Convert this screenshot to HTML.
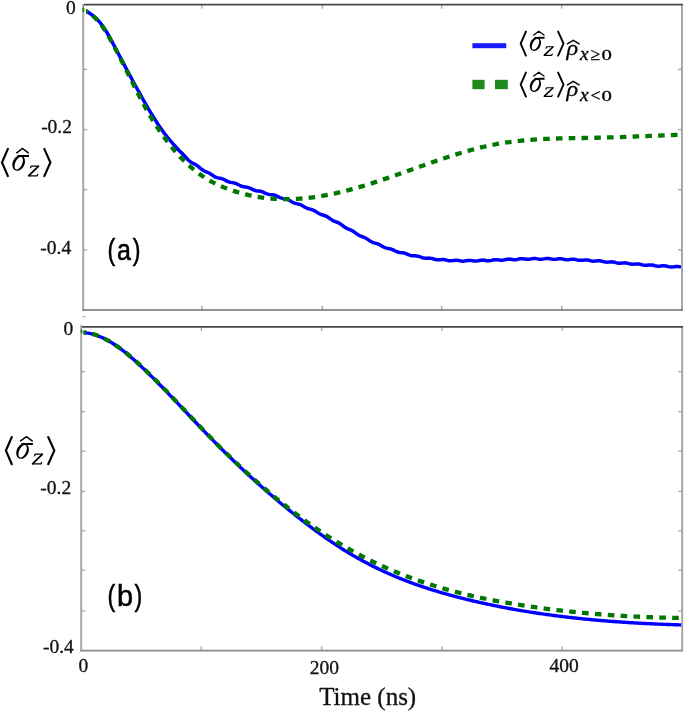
<!DOCTYPE html>
<html><head><meta charset="utf-8"><style>
html,body{margin:0;padding:0;background:#fff;width:685px;height:711px;overflow:hidden;position:relative}
</style></head><body>
<svg width="685" height="711" viewBox="0 0 685 711" style="position:absolute;left:0;top:0;will-change:transform">
<defs>
<clipPath id="ca"><rect x="86.2" y="5" width="595.5" height="305"/></clipPath>
<clipPath id="cb"><rect x="83.6" y="327.5" width="598" height="322.5"/></clipPath>
</defs>
<g>
<g stroke="#ababab" stroke-width="1.4" fill="none">
<line x1="201.9" y1="4.6" x2="201.9" y2="8.8"/><line x1="322.3" y1="4.6" x2="322.3" y2="8.8"/><line x1="441.6" y1="4.6" x2="441.6" y2="8.8"/><line x1="561.7" y1="4.6" x2="561.7" y2="8.8"/><line x1="201.9" y1="310" x2="201.9" y2="305.8"/><line x1="322.3" y1="310" x2="322.3" y2="305.8"/><line x1="441.6" y1="310" x2="441.6" y2="305.8"/><line x1="561.7" y1="310" x2="561.7" y2="305.8"/>
<line x1="83.2" y1="69.4" x2="87.2" y2="69.4"/><line x1="83.2" y1="129.6" x2="87.2" y2="129.6"/><line x1="83.2" y1="189.7" x2="87.2" y2="189.7"/><line x1="83.2" y1="249.9" x2="87.2" y2="249.9"/><line x1="682" y1="69.4" x2="678" y2="69.4"/><line x1="682" y1="129.6" x2="678" y2="129.6"/><line x1="682" y1="189.7" x2="678" y2="189.7"/><line x1="682" y1="249.9" x2="678" y2="249.9"/>
<line x1="201.3" y1="326.9" x2="201.3" y2="331.09999999999997"/><line x1="321.6" y1="326.9" x2="321.6" y2="331.09999999999997"/><line x1="441.9" y1="326.9" x2="441.9" y2="331.09999999999997"/><line x1="562.2" y1="326.9" x2="562.2" y2="331.09999999999997"/><line x1="201.3" y1="650.6" x2="201.3" y2="646.2"/><line x1="321.6" y1="650.6" x2="321.6" y2="646.2"/><line x1="441.9" y1="650.6" x2="441.9" y2="646.2"/><line x1="562.2" y1="650.6" x2="562.2" y2="646.2"/>
<line x1="81.2" y1="371.6" x2="85.2" y2="371.6"/><line x1="81.2" y1="411.6" x2="85.2" y2="411.6"/><line x1="81.2" y1="451.2" x2="85.2" y2="451.2"/><line x1="81.2" y1="491.4" x2="85.2" y2="491.4"/><line x1="81.2" y1="530.8" x2="85.2" y2="530.8"/><line x1="81.2" y1="570.2" x2="85.2" y2="570.2"/><line x1="81.2" y1="611" x2="85.2" y2="611"/><line x1="682.2" y1="371.6" x2="678.2" y2="371.6"/><line x1="682.2" y1="411.6" x2="678.2" y2="411.6"/><line x1="682.2" y1="451.2" x2="678.2" y2="451.2"/><line x1="682.2" y1="491.4" x2="678.2" y2="491.4"/><line x1="682.2" y1="530.8" x2="678.2" y2="530.8"/><line x1="682.2" y1="570.2" x2="678.2" y2="570.2"/><line x1="682.2" y1="611" x2="678.2" y2="611"/>
</g>
<g fill="none" stroke-linejoin="round">
<g clip-path="url(#ca)">
<path d="M83.50,9.55 L85.00,10.40 L86.50,11.27 L88.00,12.19 L89.50,13.17 L91.00,14.21 L92.50,15.33 L94.00,16.54 L95.50,17.86 L97.00,19.29 L98.50,20.85 L100.00,22.56 L101.50,24.42 L103.00,26.44 L104.50,28.64 L106.00,31.01 L107.50,33.51 L109.00,36.13 L110.50,38.84 L112.00,41.63 L113.50,44.47 L115.00,47.33 L116.50,50.19 L118.00,53.05 L119.50,55.90 L121.00,58.75 L122.50,61.59 L124.00,64.42 L125.50,67.25 L127.00,70.06 L128.50,72.87 L130.00,75.67 L131.50,78.45 L133.00,81.22 L134.50,83.99 L136.00,86.73 L137.50,89.47 L139.00,92.19 L140.50,94.90 L142.00,97.59 L143.50,100.25 L145.00,102.89 L146.50,105.50 L148.00,108.08 L149.50,110.63 L151.00,113.13 L152.50,115.60 L154.00,118.02 L155.50,120.39 L157.00,122.71 L158.50,124.97 L160.00,127.18 L161.50,129.32 L163.00,131.40 L164.50,133.42 L166.00,135.36 L167.50,137.25 L169.00,139.08 L170.50,140.87 L172.00,142.61 L173.50,144.32 L175.00,146.00 L176.50,147.65 L178.00,149.29 L179.50,150.92 L181.00,152.37 L182.50,153.77 L184.00,155.32 L185.50,157.00 L187.00,158.70 L188.50,160.26 L190.00,161.54 L191.50,162.53 L193.00,163.30 L194.50,164.02 L196.00,164.85 L197.50,165.88 L199.00,167.10 L200.50,168.38 L202.00,169.56 L203.50,170.54 L205.00,171.30 L206.50,171.92 L208.00,172.54 L209.50,173.30 L211.00,174.23 L212.50,175.27 L214.00,176.27 L215.50,177.10 L217.00,177.66 L218.50,178.00 L220.00,178.25 L221.50,178.57 L223.00,179.08 L224.50,179.79 L226.00,180.60 L227.50,181.38 L229.00,181.99 L230.50,182.38 L232.00,182.62 L233.50,182.85 L235.00,183.20 L236.50,183.75 L238.00,184.49 L239.50,185.28 L241.00,185.99 L242.50,186.50 L244.00,186.81 L245.50,187.00 L247.00,187.23 L248.50,187.61 L250.00,188.20 L251.50,188.94 L253.00,189.69 L254.50,190.31 L256.00,190.71 L257.50,190.93 L259.00,191.07 L260.50,191.30 L262.00,191.71 L263.50,192.31 L265.00,193.03 L266.50,193.70 L268.00,194.20 L269.50,194.48 L271.00,194.62 L272.50,194.75 L274.00,195.01 L275.50,195.49 L277.00,196.17 L278.50,196.93 L280.00,197.62 L281.50,198.15 L283.00,198.50 L284.50,198.75 L286.00,199.05 L287.50,199.53 L289.00,200.23 L290.50,201.09 L292.00,201.97 L293.50,202.73 L295.00,203.28 L296.50,203.65 L298.00,203.96 L299.50,204.35 L301.00,204.95 L302.50,205.74 L304.00,206.66 L305.50,207.54 L307.00,208.26 L308.50,208.78 L310.00,209.15 L311.50,209.52 L313.00,210.02 L314.50,210.74 L316.00,211.64 L317.50,212.63 L319.00,213.53 L320.50,214.26 L322.00,214.79 L323.50,215.23 L325.00,215.71 L326.50,216.37 L328.00,217.25 L329.50,218.30 L331.00,219.38 L332.50,220.34 L334.00,221.10 L335.50,221.70 L337.00,222.23 L338.50,222.86 L340.00,223.69 L341.50,224.72 L343.00,225.87 L344.50,226.99 L346.00,227.94 L347.50,228.69 L349.00,229.28 L350.50,229.86 L352.00,230.56 L353.50,231.47 L355.00,232.55 L356.50,233.69 L358.00,234.75 L359.50,235.60 L361.00,236.24 L362.50,236.76 L364.00,237.30 L365.50,238.00 L367.00,238.89 L368.50,239.92 L370.00,240.95 L371.50,241.83 L373.00,242.49 L374.50,242.95 L376.00,243.34 L377.50,243.78 L379.00,244.41 L380.50,245.22 L382.00,246.13 L383.50,246.98 L385.00,247.66 L386.50,248.11 L388.00,248.40 L389.50,248.65 L391.00,249.02 L392.50,249.58 L394.00,250.31 L395.50,251.09 L397.00,251.77 L398.50,252.25 L400.00,252.51 L401.50,252.65 L403.00,252.81 L404.50,253.12 L406.00,253.63 L407.50,254.28 L409.00,254.93 L410.50,255.43 L412.00,255.72 L413.50,255.82 L415.00,255.84 L416.50,255.93 L418.00,256.20 L419.50,256.66 L421.00,257.22 L422.50,257.74 L424.00,258.08 L425.50,258.20 L427.00,258.15 L428.50,258.08 L430.00,258.13 L431.50,258.38 L433.00,258.79 L434.50,259.27 L436.00,259.65 L437.50,259.82 L439.00,259.79 L440.50,259.64 L442.00,259.51 L443.50,259.54 L445.00,259.77 L446.50,260.14 L448.00,260.52 L449.50,260.76 L451.00,260.79 L452.50,260.63 L454.00,260.39 L455.50,260.23 L457.00,260.26 L458.50,260.48 L460.00,260.81 L461.50,261.09 L463.00,261.20 L464.50,261.09 L466.00,260.83 L467.50,260.55 L469.00,260.38 L470.50,260.42 L472.00,260.64 L473.50,260.92 L475.00,261.11 L476.50,261.10 L478.00,260.89 L479.50,260.56 L481.00,260.26 L482.50,260.12 L484.00,260.20 L485.50,260.42 L487.00,260.65 L488.50,260.75 L490.00,260.64 L491.50,260.35 L493.00,260.00 L494.50,259.72 L496.00,259.64 L497.50,259.76 L499.00,259.98 L500.50,260.18 L502.00,260.21 L503.50,260.02 L505.00,259.69 L506.50,259.34 L508.00,259.13 L509.50,259.12 L511.00,259.29 L512.50,259.53 L514.00,259.69 L515.50,259.66 L517.00,259.43 L518.50,259.09 L520.00,258.79 L521.50,258.66 L523.00,258.74 L524.50,258.98 L526.00,259.23 L527.50,259.36 L529.00,259.28 L530.50,259.03 L532.00,258.71 L533.50,258.49 L535.00,258.45 L536.50,258.62 L538.00,258.91 L539.50,259.16 L541.00,259.26 L542.50,259.14 L544.00,258.88 L545.50,258.60 L547.00,258.46 L548.50,258.52 L550.00,258.77 L551.50,259.09 L553.00,259.33 L554.50,259.38 L556.00,259.23 L557.50,258.97 L559.00,258.76 L560.50,258.70 L562.00,258.87 L563.50,259.19 L565.00,259.52 L566.50,259.73 L568.00,259.74 L569.50,259.57 L571.00,259.33 L572.50,259.19 L574.00,259.23 L575.50,259.49 L577.00,259.85 L578.50,260.19 L580.00,260.36 L581.50,260.33 L583.00,260.15 L584.50,259.95 L586.00,259.89 L587.50,260.03 L589.00,260.36 L590.50,260.76 L592.00,261.07 L593.50,261.20 L595.00,261.12 L596.50,260.94 L598.00,260.79 L599.50,260.81 L601.00,261.04 L602.50,261.43 L604.00,261.83 L605.50,262.10 L607.00,262.17 L608.50,262.06 L610.00,261.88 L611.50,261.79 L613.00,261.89 L614.50,262.19 L616.00,262.61 L617.50,262.99 L619.00,263.20 L620.50,263.21 L622.00,263.06 L623.50,262.90 L625.00,262.87 L626.50,263.04 L628.00,263.40 L629.50,263.82 L631.00,264.16 L632.50,264.30 L634.00,264.25 L635.50,264.07 L637.00,263.94 L638.50,263.97 L640.00,264.20 L641.50,264.59 L643.00,264.99 L644.50,265.27 L646.00,265.33 L647.50,265.21 L649.00,265.02 L650.50,264.92 L652.00,265.01 L653.50,265.29 L655.00,265.69 L656.50,266.05 L658.00,266.24 L659.50,266.21 L661.00,266.04 L662.50,265.85 L664.00,265.78 L665.50,265.91 L667.00,266.23 L668.50,266.61 L670.00,266.90 L671.50,267.00 L673.00,266.89 L674.50,266.66 L676.00,266.47 L677.50,266.44 L679.00,266.62 L680.50,266.94 L681.00,267.06" stroke="#0000ff" stroke-width="3.5"/>
<path d="M83.50,9.93 L85.00,10.68 L86.50,11.49 L88.00,12.37 L89.50,13.34 L91.00,14.40 L92.50,15.56 L94.00,16.83 L95.50,18.22 L97.00,19.75 L98.50,21.42 L100.00,23.23 L101.50,25.21 L103.00,27.33 L104.50,29.59 L106.00,31.96 L107.50,34.44 L109.00,37.01 L110.50,39.67 L112.00,42.38 L113.50,45.15 L115.00,47.97 L116.50,50.83 L118.00,53.72 L119.50,56.64 L121.00,59.59 L122.50,62.56 L124.00,65.55 L125.50,68.55 L127.00,71.56 L128.50,74.58 L130.00,77.59 L131.50,80.60 L133.00,83.61 L134.50,86.60 L136.00,89.57 L137.50,92.52 L139.00,95.44 L140.50,98.33 L142.00,101.18 L143.50,104.00 L145.00,106.77 L146.50,109.49 L148.00,112.16 L149.50,114.77 L151.00,117.32 L152.50,119.80 L154.00,122.21 L155.50,124.57 L157.00,126.86 L158.50,129.10 L160.00,131.30 L161.50,133.45 L163.00,135.55 L164.50,137.62 L166.00,139.66 L167.50,141.66 L169.00,143.63 L170.50,145.56 L172.00,147.46 L173.50,149.31 L175.00,151.12 L176.50,152.88 L178.00,154.58 L179.50,156.24 L181.00,157.83 L182.50,159.36 L184.00,160.84 L185.50,162.26 L187.00,163.63 L188.50,164.97 L190.00,166.27 L191.50,167.55 L193.00,168.81 L194.50,170.05 L196.00,171.27 L197.50,172.45 L199.00,173.61 L200.50,174.72 L202.00,175.80 L203.50,176.83 L205.00,177.82 L206.50,178.77 L208.00,179.68 L209.50,180.55 L211.00,181.38 L212.50,182.19 L214.00,182.95 L215.50,183.69 L217.00,184.41 L218.50,185.09 L220.00,185.75 L221.50,186.39 L223.00,187.01 L224.50,187.62 L226.00,188.20 L227.50,188.77 L229.00,189.32 L230.50,189.86 L232.00,190.37 L233.50,190.88 L235.00,191.36 L236.50,191.84 L238.00,192.29 L239.50,192.73 L241.00,193.15 L242.50,193.56 L244.00,193.96 L245.50,194.33 L247.00,194.70 L248.50,195.04 L250.00,195.38 L251.50,195.69 L253.00,196.00 L254.50,196.29 L256.00,196.56 L257.50,196.82 L259.00,197.07 L260.50,197.30 L262.00,197.51 L263.50,197.72 L265.00,197.91 L266.50,198.08 L268.00,198.25 L269.50,198.39 L271.00,198.53 L272.50,198.65 L274.00,198.76 L275.50,198.86 L277.00,198.94 L278.50,199.01 L280.00,199.07 L281.50,199.11 L283.00,199.14 L284.50,199.16 L286.00,199.17 L287.50,199.17 L289.00,199.15 L290.50,199.12 L292.00,199.08 L293.50,199.03 L295.00,198.97 L296.50,198.89 L298.00,198.81 L299.50,198.71 L301.00,198.60 L302.50,198.48 L304.00,198.35 L305.50,198.21 L307.00,198.05 L308.50,197.89 L310.00,197.72 L311.50,197.53 L313.00,197.34 L314.50,197.13 L316.00,196.92 L317.50,196.70 L319.00,196.46 L320.50,196.22 L322.00,195.96 L323.50,195.70 L325.00,195.43 L326.50,195.15 L328.00,194.86 L329.50,194.56 L331.00,194.26 L332.50,193.94 L334.00,193.62 L335.50,193.29 L337.00,192.95 L338.50,192.61 L340.00,192.25 L341.50,191.89 L343.00,191.52 L344.50,191.15 L346.00,190.77 L347.50,190.38 L349.00,189.98 L350.50,189.58 L352.00,189.17 L353.50,188.76 L355.00,188.34 L356.50,187.91 L358.00,187.48 L359.50,187.04 L361.00,186.60 L362.50,186.15 L364.00,185.70 L365.50,185.24 L367.00,184.78 L368.50,184.31 L370.00,183.84 L371.50,183.36 L373.00,182.88 L374.50,182.40 L376.00,181.91 L377.50,181.41 L379.00,180.92 L380.50,180.42 L382.00,179.92 L383.50,179.41 L385.00,178.90 L386.50,178.39 L388.00,177.88 L389.50,177.36 L391.00,176.84 L392.50,176.32 L394.00,175.80 L395.50,175.28 L397.00,174.75 L398.50,174.22 L400.00,173.69 L401.50,173.16 L403.00,172.63 L404.50,172.10 L406.00,171.57 L407.50,171.03 L409.00,170.50 L410.50,169.96 L412.00,169.43 L413.50,168.89 L415.00,168.36 L416.50,167.83 L418.00,167.29 L419.50,166.76 L421.00,166.23 L422.50,165.69 L424.00,165.16 L425.50,164.64 L427.00,164.11 L428.50,163.58 L430.00,163.06 L431.50,162.54 L433.00,162.02 L434.50,161.50 L436.00,160.98 L437.50,160.47 L439.00,159.96 L440.50,159.45 L442.00,158.95 L443.50,158.45 L445.00,157.95 L446.50,157.46 L448.00,156.97 L449.50,156.48 L451.00,156.00 L452.50,155.52 L454.00,155.05 L455.50,154.58 L457.00,154.11 L458.50,153.65 L460.00,153.20 L461.50,152.75 L463.00,152.31 L464.50,151.87 L466.00,151.44 L467.50,151.01 L469.00,150.59 L470.50,150.17 L472.00,149.77 L473.50,149.36 L475.00,148.97 L476.50,148.58 L478.00,148.20 L479.50,147.83 L481.00,147.46 L482.50,147.10 L484.00,146.75 L485.50,146.40 L487.00,146.07 L488.50,145.74 L490.00,145.42 L491.50,145.11 L493.00,144.81 L494.50,144.51 L496.00,144.23 L497.50,143.95 L499.00,143.68 L500.50,143.43 L502.00,143.18 L503.50,142.94 L505.00,142.70 L506.50,142.48 L508.00,142.26 L509.50,142.05 L511.00,141.85 L512.50,141.66 L514.00,141.47 L515.50,141.29 L517.00,141.12 L518.50,140.95 L520.00,140.79 L521.50,140.64 L523.00,140.49 L524.50,140.35 L526.00,140.22 L527.50,140.09 L529.00,139.97 L530.50,139.85 L532.00,139.74 L533.50,139.63 L535.00,139.53 L536.50,139.43 L538.00,139.34 L539.50,139.25 L541.00,139.17 L542.50,139.09 L544.00,139.02 L545.50,138.95 L547.00,138.88 L548.50,138.82 L550.00,138.76 L551.50,138.70 L553.00,138.65 L554.50,138.60 L556.00,138.55 L557.50,138.51 L559.00,138.47 L560.50,138.43 L562.00,138.39 L563.50,138.35 L565.00,138.32 L566.50,138.29 L568.00,138.26 L569.50,138.23 L571.00,138.20 L572.50,138.18 L574.00,138.15 L575.50,138.13 L577.00,138.10 L578.50,138.08 L580.00,138.06 L581.50,138.03 L583.00,138.01 L584.50,137.99 L586.00,137.96 L587.50,137.94 L589.00,137.91 L590.50,137.89 L592.00,137.86 L593.50,137.83 L595.00,137.80 L596.50,137.77 L598.00,137.74 L599.50,137.71 L601.00,137.67 L602.50,137.63 L604.00,137.60 L605.50,137.55 L607.00,137.51 L608.50,137.47 L610.00,137.43 L611.50,137.38 L613.00,137.33 L614.50,137.28 L616.00,137.23 L617.50,137.18 L619.00,137.13 L620.50,137.08 L622.00,137.03 L623.50,136.97 L625.00,136.92 L626.50,136.86 L628.00,136.81 L629.50,136.75 L631.00,136.69 L632.50,136.63 L634.00,136.57 L635.50,136.51 L637.00,136.45 L638.50,136.40 L640.00,136.33 L641.50,136.27 L643.00,136.21 L644.50,136.15 L646.00,136.09 L647.50,136.03 L649.00,135.97 L650.50,135.91 L652.00,135.85 L653.50,135.79 L655.00,135.73 L656.50,135.67 L658.00,135.61 L659.50,135.55 L661.00,135.49 L662.50,135.44 L664.00,135.38 L665.50,135.32 L667.00,135.27 L668.50,135.21 L670.00,135.16 L671.50,135.11 L673.00,135.05 L674.50,135.00 L676.00,134.95 L677.50,134.90 L679.00,134.85" stroke="#007800" stroke-width="4.3" stroke-dasharray="6.6 6.177" stroke-dashoffset="1.661"/>
</g>
<g clip-path="url(#cb)">
<path d="M81.80,332.65 L83.30,332.69 L84.80,332.79 L86.30,332.94 L87.80,333.14 L89.30,333.40 L90.80,333.70 L92.30,334.06 L93.80,334.47 L95.30,334.92 L96.80,335.42 L98.30,335.97 L99.80,336.56 L101.30,337.20 L102.80,337.87 L104.30,338.59 L105.80,339.35 L107.30,340.15 L108.80,340.99 L110.30,341.87 L111.80,342.78 L113.30,343.72 L114.80,344.71 L116.30,345.72 L117.80,346.76 L119.30,347.84 L120.80,348.95 L122.30,350.08 L123.80,351.24 L125.30,352.43 L126.80,353.65 L128.30,354.89 L129.80,356.15 L131.30,357.43 L132.80,358.74 L134.30,360.07 L135.80,361.41 L137.30,362.77 L138.80,364.15 L140.30,365.55 L141.80,366.96 L143.30,368.38 L144.80,369.82 L146.30,371.27 L147.80,372.73 L149.30,374.20 L150.80,375.68 L152.30,377.16 L153.80,378.66 L155.30,380.16 L156.80,381.67 L158.30,383.19 L159.80,384.72 L161.30,386.25 L162.80,387.79 L164.30,389.33 L165.80,390.88 L167.30,392.44 L168.80,394.00 L170.30,395.56 L171.80,397.13 L173.30,398.70 L174.80,400.28 L176.30,401.85 L177.80,403.44 L179.30,405.02 L180.80,406.60 L182.30,408.19 L183.80,409.78 L185.30,411.36 L186.80,412.95 L188.30,414.54 L189.80,416.13 L191.30,417.71 L192.80,419.30 L194.30,420.88 L195.80,422.46 L197.30,424.04 L198.80,425.62 L200.30,427.19 L201.80,428.76 L203.30,430.33 L204.80,431.89 L206.30,433.45 L207.80,435.00 L209.30,436.55 L210.80,438.09 L212.30,439.63 L213.80,441.16 L215.30,442.68 L216.80,444.20 L218.30,445.71 L219.80,447.21 L221.30,448.71 L222.80,450.21 L224.30,451.69 L225.80,453.18 L227.30,454.65 L228.80,456.12 L230.30,457.58 L231.80,459.04 L233.30,460.49 L234.80,461.94 L236.30,463.38 L237.80,464.81 L239.30,466.24 L240.80,467.66 L242.30,469.07 L243.80,470.48 L245.30,471.88 L246.80,473.28 L248.30,474.67 L249.80,476.05 L251.30,477.43 L252.80,478.80 L254.30,480.17 L255.80,481.53 L257.30,482.88 L258.80,484.23 L260.30,485.57 L261.80,486.90 L263.30,488.23 L264.80,489.56 L266.30,490.87 L267.80,492.18 L269.30,493.49 L270.80,494.78 L272.30,496.07 L273.80,497.36 L275.30,498.64 L276.80,499.91 L278.30,501.18 L279.80,502.44 L281.30,503.69 L282.80,504.94 L284.30,506.18 L285.80,507.41 L287.30,508.64 L288.80,509.86 L290.30,511.08 L291.80,512.29 L293.30,513.49 L294.80,514.69 L296.30,515.88 L297.80,517.06 L299.30,518.24 L300.80,519.41 L302.30,520.58 L303.80,521.74 L305.30,522.89 L306.80,524.03 L308.30,525.17 L309.80,526.30 L311.30,527.43 L312.80,528.55 L314.30,529.66 L315.80,530.77 L317.30,531.87 L318.80,532.96 L320.30,534.04 L321.80,535.12 L323.30,536.19 L324.80,537.25 L326.30,538.30 L327.80,539.35 L329.30,540.38 L330.80,541.41 L332.30,542.43 L333.80,543.43 L335.30,544.43 L336.80,545.42 L338.30,546.40 L339.80,547.37 L341.30,548.33 L342.80,549.27 L344.30,550.21 L345.80,551.14 L347.30,552.05 L348.80,552.96 L350.30,553.86 L351.80,554.74 L353.30,555.62 L354.80,556.48 L356.30,557.34 L357.80,558.19 L359.30,559.03 L360.80,559.85 L362.30,560.67 L363.80,561.48 L365.30,562.28 L366.80,563.07 L368.30,563.85 L369.80,564.63 L371.30,565.39 L372.80,566.15 L374.30,566.89 L375.80,567.63 L377.30,568.36 L378.80,569.08 L380.30,569.79 L381.80,570.49 L383.30,571.19 L384.80,571.88 L386.30,572.56 L387.80,573.23 L389.30,573.89 L390.80,574.55 L392.30,575.20 L393.80,575.84 L395.30,576.47 L396.80,577.09 L398.30,577.71 L399.80,578.32 L401.30,578.92 L402.80,579.52 L404.30,580.11 L405.80,580.69 L407.30,581.27 L408.80,581.83 L410.30,582.40 L411.80,582.95 L413.30,583.50 L414.80,584.04 L416.30,584.58 L417.80,585.10 L419.30,585.63 L420.80,586.14 L422.30,586.65 L423.80,587.16 L425.30,587.66 L426.80,588.15 L428.30,588.64 L429.80,589.12 L431.30,589.59 L432.80,590.06 L434.30,590.53 L435.80,590.99 L437.30,591.44 L438.80,591.89 L440.30,592.33 L441.80,592.77 L443.30,593.21 L444.80,593.64 L446.30,594.06 L447.80,594.48 L449.30,594.89 L450.80,595.30 L452.30,595.71 L453.80,596.11 L455.30,596.51 L456.80,596.90 L458.30,597.29 L459.80,597.68 L461.30,598.06 L462.80,598.44 L464.30,598.81 L465.80,599.18 L467.30,599.55 L468.80,599.91 L470.30,600.27 L471.80,600.63 L473.30,600.98 L474.80,601.33 L476.30,601.67 L477.80,602.02 L479.30,602.36 L480.80,602.69 L482.30,603.03 L483.80,603.36 L485.30,603.68 L486.80,604.01 L488.30,604.33 L489.80,604.64 L491.30,604.96 L492.80,605.27 L494.30,605.58 L495.80,605.88 L497.30,606.18 L498.80,606.48 L500.30,606.78 L501.80,607.07 L503.30,607.36 L504.80,607.65 L506.30,607.93 L507.80,608.21 L509.30,608.49 L510.80,608.76 L512.30,609.04 L513.80,609.31 L515.30,609.57 L516.80,609.83 L518.30,610.10 L519.80,610.35 L521.30,610.61 L522.80,610.86 L524.30,611.11 L525.80,611.36 L527.30,611.60 L528.80,611.84 L530.30,612.08 L531.80,612.31 L533.30,612.55 L534.80,612.78 L536.30,613.00 L537.80,613.23 L539.30,613.45 L540.80,613.67 L542.30,613.89 L543.80,614.10 L545.30,614.32 L546.80,614.52 L548.30,614.73 L549.80,614.94 L551.30,615.14 L552.80,615.34 L554.30,615.53 L555.80,615.73 L557.30,615.92 L558.80,616.11 L560.30,616.30 L561.80,616.48 L563.30,616.67 L564.80,616.85 L566.30,617.02 L567.80,617.20 L569.30,617.37 L570.80,617.54 L572.30,617.71 L573.80,617.88 L575.30,618.04 L576.80,618.20 L578.30,618.36 L579.80,618.52 L581.30,618.68 L582.80,618.83 L584.30,618.98 L585.80,619.13 L587.30,619.28 L588.80,619.42 L590.30,619.56 L591.80,619.70 L593.30,619.84 L594.80,619.98 L596.30,620.11 L597.80,620.25 L599.30,620.38 L600.80,620.50 L602.30,620.63 L603.80,620.76 L605.30,620.88 L606.80,621.00 L608.30,621.12 L609.80,621.23 L611.30,621.35 L612.80,621.46 L614.30,621.57 L615.80,621.68 L617.30,621.79 L618.80,621.90 L620.30,622.00 L621.80,622.10 L623.30,622.21 L624.80,622.30 L626.30,622.40 L627.80,622.50 L629.30,622.59 L630.80,622.68 L632.30,622.78 L633.80,622.86 L635.30,622.95 L636.80,623.04 L638.30,623.12 L639.80,623.20 L641.30,623.29 L642.80,623.37 L644.30,623.44 L645.80,623.52 L647.30,623.60 L648.80,623.67 L650.30,623.74 L651.80,623.81 L653.30,623.88 L654.80,623.95 L656.30,624.02 L657.80,624.08 L659.30,624.15 L660.80,624.21 L662.30,624.27 L663.80,624.33 L665.30,624.39 L666.80,624.45 L668.30,624.50 L669.80,624.56 L671.30,624.61 L672.80,624.67 L674.30,624.72 L675.80,624.77 L677.30,624.82 L678.80,624.86 L680.30,624.91 L681.80,624.96 L682.00,624.96" stroke="#0000ff" stroke-width="3.4"/>
<path d="M81.80,332.29 L83.30,332.37 L84.80,332.50 L86.30,332.69 L87.80,332.92 L89.30,333.21 L90.80,333.54 L92.30,333.92 L93.80,334.35 L95.30,334.82 L96.80,335.34 L98.30,335.90 L99.80,336.50 L101.30,337.15 L102.80,337.83 L104.30,338.56 L105.80,339.32 L107.30,340.12 L108.80,340.96 L110.30,341.83 L111.80,342.74 L113.30,343.69 L114.80,344.66 L116.30,345.67 L117.80,346.71 L119.30,347.77 L120.80,348.87 L122.30,350.00 L123.80,351.15 L125.30,352.33 L126.80,353.53 L128.30,354.76 L129.80,356.01 L131.30,357.28 L132.80,358.57 L134.30,359.88 L135.80,361.22 L137.30,362.57 L138.80,363.93 L140.30,365.32 L141.80,366.72 L143.30,368.13 L144.80,369.56 L146.30,371.00 L147.80,372.45 L149.30,373.91 L150.80,375.38 L152.30,376.86 L153.80,378.35 L155.30,379.85 L156.80,381.36 L158.30,382.87 L159.80,384.40 L161.30,385.93 L162.80,387.46 L164.30,389.01 L165.80,390.56 L167.30,392.11 L168.80,393.67 L170.30,395.24 L171.80,396.81 L173.30,398.38 L174.80,399.96 L176.30,401.54 L177.80,403.12 L179.30,404.71 L180.80,406.30 L182.30,407.88 L183.80,409.47 L185.30,411.07 L186.80,412.66 L188.30,414.25 L189.80,415.84 L191.30,417.43 L192.80,419.01 L194.30,420.60 L195.80,422.18 L197.30,423.77 L198.80,425.34 L200.30,426.92 L201.80,428.49 L203.30,430.06 L204.80,431.62 L206.30,433.18 L207.80,434.73 L209.30,436.28 L210.80,437.82 L212.30,439.35 L213.80,440.87 L215.30,442.39 L216.80,443.91 L218.30,445.41 L219.80,446.91 L221.30,448.41 L222.80,449.89 L224.30,451.37 L225.80,452.85 L227.30,454.31 L228.80,455.77 L230.30,457.23 L231.80,458.67 L233.30,460.11 L234.80,461.54 L236.30,462.97 L237.80,464.39 L239.30,465.80 L240.80,467.21 L242.30,468.60 L243.80,469.99 L245.30,471.38 L246.80,472.76 L248.30,474.13 L249.80,475.49 L251.30,476.84 L252.80,478.19 L254.30,479.53 L255.80,480.87 L257.30,482.20 L258.80,483.52 L260.30,484.83 L261.80,486.14 L263.30,487.43 L264.80,488.73 L266.30,490.01 L267.80,491.29 L269.30,492.56 L270.80,493.82 L272.30,495.08 L273.80,496.32 L275.30,497.56 L276.80,498.80 L278.30,500.02 L279.80,501.24 L281.30,502.45 L282.80,503.66 L284.30,504.85 L285.80,506.04 L287.30,507.22 L288.80,508.40 L290.30,509.56 L291.80,510.72 L293.30,511.87 L294.80,513.02 L296.30,514.15 L297.80,515.28 L299.30,516.40 L300.80,517.51 L302.30,518.62 L303.80,519.72 L305.30,520.81 L306.80,521.89 L308.30,522.97 L309.80,524.03 L311.30,525.09 L312.80,526.14 L314.30,527.19 L315.80,528.22 L317.30,529.25 L318.80,530.27 L320.30,531.28 L321.80,532.29 L323.30,533.28 L324.80,534.27 L326.30,535.25 L327.80,536.22 L329.30,537.19 L330.80,538.14 L332.30,539.09 L333.80,540.03 L335.30,540.96 L336.80,541.89 L338.30,542.80 L339.80,543.71 L341.30,544.61 L342.80,545.50 L344.30,546.39 L345.80,547.26 L347.30,548.13 L348.80,548.99 L350.30,549.84 L351.80,550.68 L353.30,551.52 L354.80,552.34 L356.30,553.16 L357.80,553.97 L359.30,554.77 L360.80,555.57 L362.30,556.35 L363.80,557.13 L365.30,557.90 L366.80,558.66 L368.30,559.42 L369.80,560.16 L371.30,560.90 L372.80,561.64 L374.30,562.36 L375.80,563.08 L377.30,563.79 L378.80,564.49 L380.30,565.19 L381.80,565.87 L383.30,566.55 L384.80,567.23 L386.30,567.89 L387.80,568.55 L389.30,569.21 L390.80,569.85 L392.30,570.49 L393.80,571.12 L395.30,571.75 L396.80,572.36 L398.30,572.98 L399.80,573.58 L401.30,574.18 L402.80,574.77 L404.30,575.36 L405.80,575.93 L407.30,576.51 L408.80,577.07 L410.30,577.63 L411.80,578.19 L413.30,578.73 L414.80,579.28 L416.30,579.81 L417.80,580.34 L419.30,580.86 L420.80,581.38 L422.30,581.89 L423.80,582.40 L425.30,582.90 L426.80,583.39 L428.30,583.88 L429.80,584.36 L431.30,584.84 L432.80,585.31 L434.30,585.78 L435.80,586.24 L437.30,586.69 L438.80,587.14 L440.30,587.59 L441.80,588.03 L443.30,588.46 L444.80,588.89 L446.30,589.32 L447.80,589.74 L449.30,590.15 L450.80,590.56 L452.30,590.96 L453.80,591.36 L455.30,591.76 L456.80,592.15 L458.30,592.53 L459.80,592.92 L461.30,593.29 L462.80,593.66 L464.30,594.03 L465.80,594.39 L467.30,594.75 L468.80,595.11 L470.30,595.46 L471.80,595.80 L473.30,596.15 L474.80,596.48 L476.30,596.82 L477.80,597.15 L479.30,597.47 L480.80,597.79 L482.30,598.11 L483.80,598.43 L485.30,598.74 L486.80,599.04 L488.30,599.35 L489.80,599.65 L491.30,599.94 L492.80,600.23 L494.30,600.52 L495.80,600.81 L497.30,601.09 L498.80,601.37 L500.30,601.65 L501.80,601.92 L503.30,602.19 L504.80,602.45 L506.30,602.72 L507.80,602.98 L509.30,603.23 L510.80,603.49 L512.30,603.74 L513.80,603.99 L515.30,604.24 L516.80,604.48 L518.30,604.72 L519.80,604.96 L521.30,605.19 L522.80,605.43 L524.30,605.66 L525.80,605.89 L527.30,606.11 L528.80,606.34 L530.30,606.56 L531.80,606.78 L533.30,606.99 L534.80,607.21 L536.30,607.42 L537.80,607.63 L539.30,607.83 L540.80,608.04 L542.30,608.24 L543.80,608.44 L545.30,608.64 L546.80,608.83 L548.30,609.02 L549.80,609.21 L551.30,609.40 L552.80,609.59 L554.30,609.77 L555.80,609.95 L557.30,610.13 L558.80,610.31 L560.30,610.48 L561.80,610.65 L563.30,610.82 L564.80,610.99 L566.30,611.16 L567.80,611.32 L569.30,611.48 L570.80,611.64 L572.30,611.80 L573.80,611.95 L575.30,612.10 L576.80,612.25 L578.30,612.40 L579.80,612.55 L581.30,612.69 L582.80,612.83 L584.30,612.97 L585.80,613.11 L587.30,613.25 L588.80,613.38 L590.30,613.51 L591.80,613.64 L593.30,613.77 L594.80,613.89 L596.30,614.02 L597.80,614.14 L599.30,614.26 L600.80,614.38 L602.30,614.49 L603.80,614.60 L605.30,614.72 L606.80,614.83 L608.30,614.93 L609.80,615.04 L611.30,615.14 L612.80,615.24 L614.30,615.34 L615.80,615.44 L617.30,615.54 L618.80,615.63 L620.30,615.72 L621.80,615.81 L623.30,615.90 L624.80,615.99 L626.30,616.07 L627.80,616.16 L629.30,616.24 L630.80,616.32 L632.30,616.39 L633.80,616.47 L635.30,616.54 L636.80,616.62 L638.30,616.69 L639.80,616.76 L641.30,616.82 L642.80,616.89 L644.30,616.95 L645.80,617.01 L647.30,617.07 L648.80,617.13 L650.30,617.19 L651.80,617.24 L653.30,617.30 L654.80,617.35 L656.30,617.40 L657.80,617.45 L659.30,617.49 L660.80,617.54 L662.30,617.58 L663.80,617.62 L665.30,617.66 L666.80,617.70 L668.30,617.74 L669.80,617.77 L671.30,617.81 L672.80,617.84 L674.30,617.87 L675.80,617.90 L677.30,617.93 L678.80,617.95 L679.00,617.96" stroke="#007800" stroke-width="4.3" stroke-dasharray="6.6 6.301" stroke-dashoffset="2.288"/>
</g>
</g>
<g fill="none" stroke-width="1.6">
<line x1="83.2" y1="4" x2="83.2" y2="310.8" stroke="#a3a3a3" stroke-width="1.9"/>
<line x1="682" y1="4" x2="682" y2="310.8" stroke="#a3a3a3" stroke-width="1.9"/>
<line x1="82.4" y1="310" x2="682.8" y2="310" stroke="#6e6e6e"/>
<line x1="84.0" y1="4.6" x2="682.8" y2="4.6" stroke="#474747"/>
<line x1="81.2" y1="325" x2="81.2" y2="651.5" stroke="#a3a3a3" stroke-width="1.9"/>
<line x1="682.2" y1="326" x2="682.2" y2="651" stroke="#a3a3a3" stroke-width="1.9"/>
<line x1="80.4" y1="650.6" x2="683" y2="650.6" stroke="#8a8a8a" stroke-width="1.9"/>
<line x1="82.1" y1="326.9" x2="683" y2="326.9" stroke="#474747"/>
</g>
<!-- legend -->
<rect x="472.4" y="43.2" width="33.8" height="5" fill="#1a1aff"/>
<rect x="472.4" y="79.8" width="12.2" height="9.4" fill="#1e8a1e"/>
<rect x="495" y="79.8" width="12.8" height="9.4" fill="#1e8a1e"/>
<g transform="translate(1.9,162.5) scale(1.0) translate(-1.9,-162.5)" fill="none" stroke="#000" stroke-linecap="round" stroke-linejoin="miter">
<polyline points="7.9,148.9 2.0,162.5 7.9,176.1" stroke-width="2.15"/>
<polyline points="44.3,148.9 50.4,162.5 44.3,176.1" stroke-width="2.15"/>
<polyline points="16.7,152.8 22.5,148.5 28.3,152.8" stroke-width="1.5"/>
<path d="M17.5,156.0 L29.0,155.9" stroke-width="2.0" stroke-linecap="butt"/>
<path fill-rule="evenodd" fill="#000" stroke="none" d="M24.00,165.59 L23.51,166.52 L22.94,167.39 L22.30,168.18 L21.59,168.88 L20.83,169.49 L20.04,169.99 L19.22,170.37 L18.40,170.63 L17.57,170.75 L16.77,170.75 L16.00,170.61 L15.27,170.35 L14.60,169.96 L14.00,169.46 L13.48,168.84 L13.05,168.13 L12.71,167.33 L12.48,166.46 L12.35,165.54 L12.33,164.57 L12.42,163.57 L12.61,162.57 L12.91,161.57 L13.30,160.61 L13.79,159.68 L14.36,158.81 L15.00,158.02 L15.71,157.32 L16.47,156.71 L17.26,156.21 L18.08,155.83 L18.90,155.57 L19.73,155.45 L20.53,155.45 L21.30,155.59 L22.03,155.85 L22.70,156.24 L23.30,156.74 L23.82,157.36 L24.25,158.07 L24.59,158.87 L24.82,159.74 L24.95,160.66 L24.97,161.63 L24.88,162.63 L24.69,163.63 L24.39,164.63 Z M21.83,164.64 L21.44,165.42 L20.99,166.16 L20.51,166.85 L20.00,167.48 L19.47,168.04 L18.93,168.51 L18.38,168.89 L17.84,169.18 L17.31,169.36 L16.81,169.44 L16.34,169.41 L15.92,169.27 L15.54,169.03 L15.22,168.69 L14.95,168.26 L14.76,167.74 L14.63,167.14 L14.57,166.48 L14.58,165.76 L14.67,164.99 L14.82,164.20 L15.04,163.38 L15.33,162.57 L15.67,161.76 L16.06,160.98 L16.51,160.24 L16.99,159.55 L17.50,158.92 L18.03,158.36 L18.57,157.89 L19.12,157.51 L19.66,157.22 L20.19,157.04 L20.69,156.96 L21.16,156.99 L21.58,157.13 L21.96,157.37 L22.28,157.71 L22.55,158.14 L22.74,158.66 L22.87,159.26 L22.93,159.92 L22.92,160.64 L22.83,161.41 L22.68,162.20 L22.46,163.02 L22.17,163.83 Z"/>
<path d="M30.6,167.7 L31.3,166.1 L38.5,166.1 M37.0,175.8 L28.7,175.8 M37.1,175.8 L37.7,174.4" stroke-width="1.3" stroke-linejoin="round"/>
<path d="M38.4,166.3 L28.8,175.6" stroke-width="1.8"/>
</g><g transform="translate(5.8,450.6) scale(1.0) translate(-1.9,-162.5)" fill="none" stroke="#000" stroke-linecap="round" stroke-linejoin="miter">
<polyline points="7.9,148.9 2.0,162.5 7.9,176.1" stroke-width="2.15"/>
<polyline points="44.3,148.9 50.4,162.5 44.3,176.1" stroke-width="2.15"/>
<polyline points="16.7,152.8 22.5,148.5 28.3,152.8" stroke-width="1.5"/>
<path d="M17.5,156.0 L29.0,155.9" stroke-width="2.0" stroke-linecap="butt"/>
<path fill-rule="evenodd" fill="#000" stroke="none" d="M24.00,165.59 L23.51,166.52 L22.94,167.39 L22.30,168.18 L21.59,168.88 L20.83,169.49 L20.04,169.99 L19.22,170.37 L18.40,170.63 L17.57,170.75 L16.77,170.75 L16.00,170.61 L15.27,170.35 L14.60,169.96 L14.00,169.46 L13.48,168.84 L13.05,168.13 L12.71,167.33 L12.48,166.46 L12.35,165.54 L12.33,164.57 L12.42,163.57 L12.61,162.57 L12.91,161.57 L13.30,160.61 L13.79,159.68 L14.36,158.81 L15.00,158.02 L15.71,157.32 L16.47,156.71 L17.26,156.21 L18.08,155.83 L18.90,155.57 L19.73,155.45 L20.53,155.45 L21.30,155.59 L22.03,155.85 L22.70,156.24 L23.30,156.74 L23.82,157.36 L24.25,158.07 L24.59,158.87 L24.82,159.74 L24.95,160.66 L24.97,161.63 L24.88,162.63 L24.69,163.63 L24.39,164.63 Z M21.83,164.64 L21.44,165.42 L20.99,166.16 L20.51,166.85 L20.00,167.48 L19.47,168.04 L18.93,168.51 L18.38,168.89 L17.84,169.18 L17.31,169.36 L16.81,169.44 L16.34,169.41 L15.92,169.27 L15.54,169.03 L15.22,168.69 L14.95,168.26 L14.76,167.74 L14.63,167.14 L14.57,166.48 L14.58,165.76 L14.67,164.99 L14.82,164.20 L15.04,163.38 L15.33,162.57 L15.67,161.76 L16.06,160.98 L16.51,160.24 L16.99,159.55 L17.50,158.92 L18.03,158.36 L18.57,157.89 L19.12,157.51 L19.66,157.22 L20.19,157.04 L20.69,156.96 L21.16,156.99 L21.58,157.13 L21.96,157.37 L22.28,157.71 L22.55,158.14 L22.74,158.66 L22.87,159.26 L22.93,159.92 L22.92,160.64 L22.83,161.41 L22.68,162.20 L22.46,163.02 L22.17,163.83 Z"/>
<path d="M30.6,167.7 L31.3,166.1 L38.5,166.1 M37.0,175.8 L28.7,175.8 M37.1,175.8 L37.7,174.4" stroke-width="1.3" stroke-linejoin="round"/>
<path d="M38.4,166.3 L28.8,175.6" stroke-width="1.8"/>
</g><g transform="translate(520.6,43.6) scale(0.885) translate(-1.9,-162.5)" fill="none" stroke="#000" stroke-linecap="round" stroke-linejoin="miter">
<polyline points="7.9,148.9 2.0,162.5 7.9,176.1" stroke-width="2.15"/>
<polyline points="44.3,148.9 50.4,162.5 44.3,176.1" stroke-width="2.15"/>
<polyline points="16.7,152.8 22.5,148.5 28.3,152.8" stroke-width="1.5"/>
<path d="M17.5,156.0 L29.0,155.9" stroke-width="2.0" stroke-linecap="butt"/>
<path fill-rule="evenodd" fill="#000" stroke="none" d="M24.00,165.59 L23.51,166.52 L22.94,167.39 L22.30,168.18 L21.59,168.88 L20.83,169.49 L20.04,169.99 L19.22,170.37 L18.40,170.63 L17.57,170.75 L16.77,170.75 L16.00,170.61 L15.27,170.35 L14.60,169.96 L14.00,169.46 L13.48,168.84 L13.05,168.13 L12.71,167.33 L12.48,166.46 L12.35,165.54 L12.33,164.57 L12.42,163.57 L12.61,162.57 L12.91,161.57 L13.30,160.61 L13.79,159.68 L14.36,158.81 L15.00,158.02 L15.71,157.32 L16.47,156.71 L17.26,156.21 L18.08,155.83 L18.90,155.57 L19.73,155.45 L20.53,155.45 L21.30,155.59 L22.03,155.85 L22.70,156.24 L23.30,156.74 L23.82,157.36 L24.25,158.07 L24.59,158.87 L24.82,159.74 L24.95,160.66 L24.97,161.63 L24.88,162.63 L24.69,163.63 L24.39,164.63 Z M21.83,164.64 L21.44,165.42 L20.99,166.16 L20.51,166.85 L20.00,167.48 L19.47,168.04 L18.93,168.51 L18.38,168.89 L17.84,169.18 L17.31,169.36 L16.81,169.44 L16.34,169.41 L15.92,169.27 L15.54,169.03 L15.22,168.69 L14.95,168.26 L14.76,167.74 L14.63,167.14 L14.57,166.48 L14.58,165.76 L14.67,164.99 L14.82,164.20 L15.04,163.38 L15.33,162.57 L15.67,161.76 L16.06,160.98 L16.51,160.24 L16.99,159.55 L17.50,158.92 L18.03,158.36 L18.57,157.89 L19.12,157.51 L19.66,157.22 L20.19,157.04 L20.69,156.96 L21.16,156.99 L21.58,157.13 L21.96,157.37 L22.28,157.71 L22.55,158.14 L22.74,158.66 L22.87,159.26 L22.93,159.92 L22.92,160.64 L22.83,161.41 L22.68,162.20 L22.46,163.02 L22.17,163.83 Z"/>
<path d="M30.6,167.7 L31.3,166.1 L38.5,166.1 M37.0,175.8 L28.7,175.8 M37.1,175.8 L37.7,174.4" stroke-width="1.3" stroke-linejoin="round"/>
<path d="M38.4,166.3 L28.8,175.6" stroke-width="1.8"/>
</g><g transform="translate(520.6,84.6) scale(0.885) translate(-1.9,-162.5)" fill="none" stroke="#000" stroke-linecap="round" stroke-linejoin="miter">
<polyline points="7.9,148.9 2.0,162.5 7.9,176.1" stroke-width="2.15"/>
<polyline points="44.3,148.9 50.4,162.5 44.3,176.1" stroke-width="2.15"/>
<polyline points="16.7,152.8 22.5,148.5 28.3,152.8" stroke-width="1.5"/>
<path d="M17.5,156.0 L29.0,155.9" stroke-width="2.0" stroke-linecap="butt"/>
<path fill-rule="evenodd" fill="#000" stroke="none" d="M24.00,165.59 L23.51,166.52 L22.94,167.39 L22.30,168.18 L21.59,168.88 L20.83,169.49 L20.04,169.99 L19.22,170.37 L18.40,170.63 L17.57,170.75 L16.77,170.75 L16.00,170.61 L15.27,170.35 L14.60,169.96 L14.00,169.46 L13.48,168.84 L13.05,168.13 L12.71,167.33 L12.48,166.46 L12.35,165.54 L12.33,164.57 L12.42,163.57 L12.61,162.57 L12.91,161.57 L13.30,160.61 L13.79,159.68 L14.36,158.81 L15.00,158.02 L15.71,157.32 L16.47,156.71 L17.26,156.21 L18.08,155.83 L18.90,155.57 L19.73,155.45 L20.53,155.45 L21.30,155.59 L22.03,155.85 L22.70,156.24 L23.30,156.74 L23.82,157.36 L24.25,158.07 L24.59,158.87 L24.82,159.74 L24.95,160.66 L24.97,161.63 L24.88,162.63 L24.69,163.63 L24.39,164.63 Z M21.83,164.64 L21.44,165.42 L20.99,166.16 L20.51,166.85 L20.00,167.48 L19.47,168.04 L18.93,168.51 L18.38,168.89 L17.84,169.18 L17.31,169.36 L16.81,169.44 L16.34,169.41 L15.92,169.27 L15.54,169.03 L15.22,168.69 L14.95,168.26 L14.76,167.74 L14.63,167.14 L14.57,166.48 L14.58,165.76 L14.67,164.99 L14.82,164.20 L15.04,163.38 L15.33,162.57 L15.67,161.76 L16.06,160.98 L16.51,160.24 L16.99,159.55 L17.50,158.92 L18.03,158.36 L18.57,157.89 L19.12,157.51 L19.66,157.22 L20.19,157.04 L20.69,156.96 L21.16,156.99 L21.58,157.13 L21.96,157.37 L22.28,157.71 L22.55,158.14 L22.74,158.66 L22.87,159.26 L22.93,159.92 L22.92,160.64 L22.83,161.41 L22.68,162.20 L22.46,163.02 L22.17,163.83 Z"/>
<path d="M30.6,167.7 L31.3,166.1 L38.5,166.1 M37.0,175.8 L28.7,175.8 M37.1,175.8 L37.7,174.4" stroke-width="1.3" stroke-linejoin="round"/>
<path d="M38.4,166.3 L28.8,175.6" stroke-width="1.8"/>
</g><polyline points="567.4,43.8 573.3,40.3 579.2,43.8" fill="none" stroke="#000" stroke-width="1.4" stroke-linecap="round"/>
<text transform="translate(566.6,54.5) scale(1.13,1)" font-family="Liberation Serif" font-style="italic" font-size="21.5" fill="#000" stroke="#000" stroke-width="0.25">&#961;</text>
<text x="580" y="59.5" font-family="Liberation Serif" font-style="italic" font-size="19.5" fill="#000" stroke="#000" stroke-width="0.35">x</text>
<text x="590.5" y="59.5" font-family="Liberation Serif" font-size="17.6" fill="#000" stroke="#000" stroke-width="0.3">&#8805;</text>
<text transform="translate(601.6,59.7) scale(1.33,1)" font-family="Liberation Serif" font-size="15.6" fill="#000" stroke="#000" stroke-width="0.3">0</text><polyline points="567.4,84.8 573.3,81.3 579.2,84.8" fill="none" stroke="#000" stroke-width="1.4" stroke-linecap="round"/>
<text transform="translate(566.6,95.5) scale(1.13,1)" font-family="Liberation Serif" font-style="italic" font-size="21.5" fill="#000" stroke="#000" stroke-width="0.25">&#961;</text>
<text x="580" y="100.5" font-family="Liberation Serif" font-style="italic" font-size="19.5" fill="#000" stroke="#000" stroke-width="0.35">x</text>
<text x="590.5" y="100.5" font-family="Liberation Serif" font-size="17.6" fill="#000" stroke="#000" stroke-width="0.3">&lt;</text>
<text transform="translate(601.6,100.7) scale(1.33,1)" font-family="Liberation Serif" font-size="15.6" fill="#000" stroke="#000" stroke-width="0.3">0</text><text x="75.8" y="13.8" font-family="Liberation Serif" font-size="19.5" fill="#111" stroke="#111" stroke-width="0.3" text-anchor="end">0</text><text x="72.0" y="133.0" font-family="Liberation Serif" font-size="19.5" fill="#111" stroke="#111" stroke-width="0.3" text-anchor="end">-0.2</text><text x="71.2" y="254.0" font-family="Liberation Serif" font-size="19.5" fill="#111" stroke="#111" stroke-width="0.3" text-anchor="end">-0.4</text><text x="73.2" y="334.7" font-family="Liberation Serif" font-size="19.5" fill="#111" stroke="#111" stroke-width="0.3" text-anchor="end">0</text><text x="71.2" y="493.5" font-family="Liberation Serif" font-size="19.5" fill="#111" stroke="#111" stroke-width="0.3" text-anchor="end">-0.2</text><text x="73.8" y="652.5" font-family="Liberation Serif" font-size="19.5" fill="#111" stroke="#111" stroke-width="0.3" text-anchor="end">-0.4</text><text x="83.4" y="672.3" font-family="Liberation Serif" font-size="19.5" fill="#111" stroke="#111" stroke-width="0.3" text-anchor="middle">0</text><text x="324.3" y="674.2" font-family="Liberation Serif" font-size="19.5" fill="#111" stroke="#111" stroke-width="0.3" text-anchor="middle">200</text><text x="564.1" y="672.3" font-family="Liberation Serif" font-size="19.5" fill="#111" stroke="#111" stroke-width="0.3" text-anchor="middle">400</text><text x="319.2" y="704.9" font-family="Liberation Serif" font-size="25" fill="#111" stroke="#111" stroke-width="0.3" textLength="97" lengthAdjust="spacingAndGlyphs">Time (ns)</text><text transform="translate(107.5,260.0) scale(0.78,1)" font-family="Liberation Sans" font-size="29.8" fill="#000" stroke="#000" stroke-width="0.55" >(</text><text transform="translate(117.0,260.0) scale(0.84,1)" font-family="Liberation Sans" font-size="29.8" fill="#000" stroke="#000" stroke-width="0.55" >a</text><text transform="translate(132.8,260.0) scale(0.78,1)" font-family="Liberation Sans" font-size="29.8" fill="#000" stroke="#000" stroke-width="0.55" >)</text><text transform="translate(107.5,605.6) scale(0.78,1)" font-family="Liberation Sans" font-size="29.8" fill="#000" stroke="#000" stroke-width="0.55" >(</text><text transform="translate(116.9,605.6) scale(0.97,1)" font-family="Liberation Sans" font-size="29.8" fill="#000" stroke="#000" stroke-width="0.55" >b</text><text transform="translate(134.6,605.6) scale(0.78,1)" font-family="Liberation Sans" font-size="29.8" fill="#000" stroke="#000" stroke-width="0.55" >)</text><ellipse cx="83.4" cy="9.7" rx="1.1" ry="2.5" fill="#0a6e0a" opacity="0.8"/><ellipse cx="81.5" cy="331.4" rx="1.0" ry="2.2" fill="#0a6e0a" opacity="0.8"/><line x1="82.6" y1="316.6" x2="86" y2="316.6" stroke="#999" stroke-width="0.8"/>
</g>
</svg>
</body></html>
